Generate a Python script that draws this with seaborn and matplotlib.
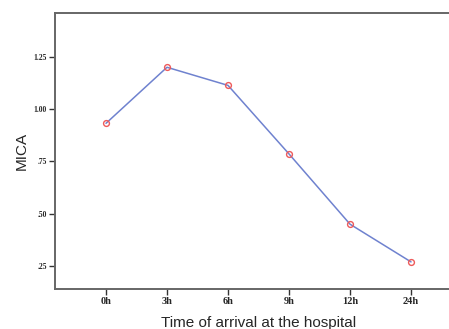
import matplotlib
matplotlib.use("Agg")
import matplotlib.pyplot as plt
import seaborn as sns
import pandas as pd

times = ["0h", "3h", "6h", "9h", "12h", "24h"]
mica = [0.933, 1.202, 1.115, 0.786, 0.449, 0.268]
ytick_vals = [0.25, 0.50, 0.75, 1.00, 1.25]
ytick_labels = [".25", ".50", ".75", "1.00", "1.25"]

df = pd.DataFrame({"time": times, "MICA": mica})

sns.set_style("white")
fig = plt.figure(figsize=(4.49, 3.29), dpi=100)
ax = fig.add_axes([0.1225, 0.1216, 0.9065, 0.839])

sns.lineplot(data=df, x="time", y="MICA", sort=False, color="#6f82cf",
             linewidth=1.1, marker="o", markersize=4.2,
             markerfacecolor="none", markeredgecolor="#ee5a5a",
             markeredgewidth=1.0, ax=ax)

ax.set_xlim(-0.836, 5.836)
ax.set_ylim(0.138, 1.4626)
ax.set_yticks(ytick_vals)
ax.set_yticklabels(ytick_labels, family="Liberation Serif", fontweight="bold", fontsize=5.5)
ax.set_xticks(range(len(times)))
ax.set_xticklabels(times, family="Liberation Serif", fontweight="bold", fontsize=7.5)
ax.tick_params(axis="both", direction="out", length=4, width=1, color="#333333",
               bottom=True, left=True, pad=2)

for s in ax.spines.values():
    s.set_color("#666666")
    s.set_linewidth(1.4)

ax.set_xlabel("Time of arrival at the hospital", family="Liberation Sans", fontsize=11, labelpad=7)
ax.set_ylabel("MICA", family="Liberation Sans", fontsize=11, labelpad=3)

fig.savefig("out.png", dpi=100)
